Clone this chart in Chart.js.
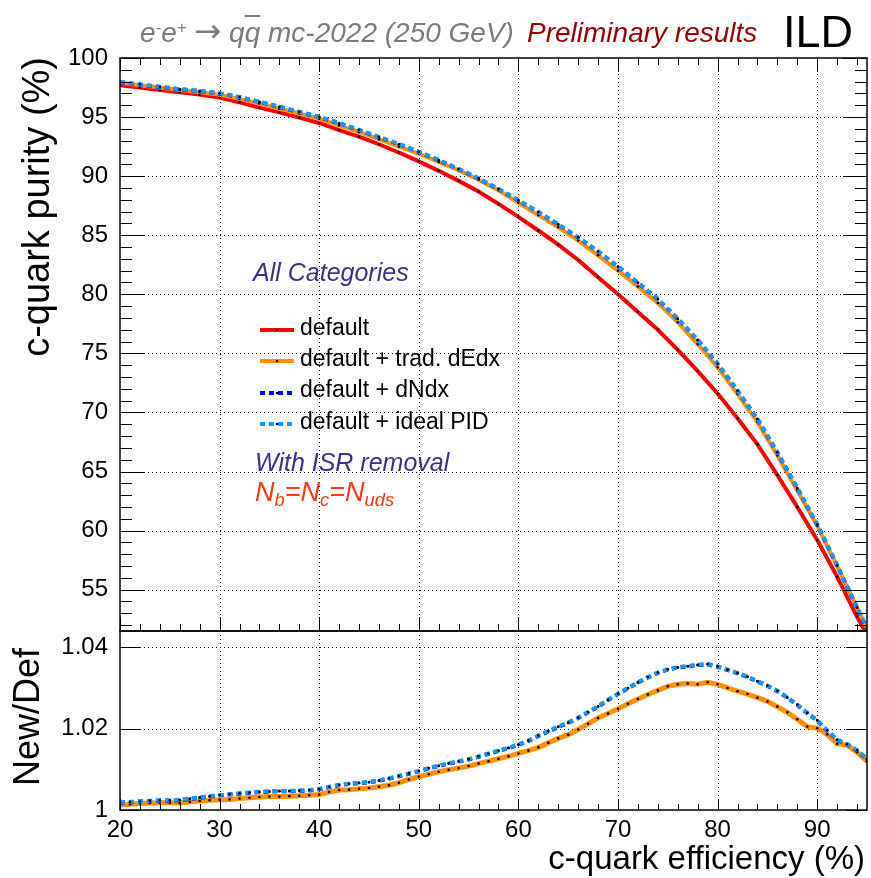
<!DOCTYPE html>
<html>
<head>
<meta charset="utf-8">
<script src="https://cdn.jsdelivr.net/npm/chart.js@4/dist/chart.umd.min.js"></script>
<style>
  body { margin: 0; background: #fff; }
  #wrap { position: relative; width: 871px; height: 878px; overflow: hidden; font-family: "Liberation Sans", Arial, sans-serif; }
  canvas { position: absolute; left: 0; }
  .txt { position: absolute; white-space: nowrap; line-height: 1; }
  .it { font-style: italic; }
  .rot { transform-origin: 0 0; transform: rotate(-90deg); }
  .arrow { font-family: "DejaVu Sans", sans-serif; font-style: normal; font-size: 1.15em; line-height: 0; }
  sub { font-size: 0.68em; vertical-align: -0.25em; line-height: 0; }
  sup { font-size: 0.6em; vertical-align: 0.55em; line-height: 0; }
</style>
</head>
<body>
<div id="wrap">
  <canvas id="purityChart" width="871" height="640" style="top:0"></canvas>
  <canvas id="ratioChart" width="871" height="278" style="top:600px"></canvas>

  <div class="txt it" style="left:140px; top:19px; font-size:28px; color:#7a7a7a">e<sup>-</sup>e<sup>+</sup> <span class="arrow">&rarr;</span> q<span style="text-decoration:overline">q</span> mc-2022 (250 GeV)</div>
  <div class="txt it" style="left:527px; top:19px; font-size:28px; color:#990000">Preliminary results</div>
  <div class="txt" style="left:783px; top:9px; font-size:45px; color:#000">ILD</div>

  <div class="txt rot" style="left:17px; top:377px; width:320px; text-align:right; font-size:38px">c-quark purity (%)</div>
  <div class="txt rot" style="left:9px; top:817px; width:200px; text-align:center; font-size:36px">New/Def</div>
  <div class="txt" style="right:6px; top:841px; font-size:33px">c-quark efficiency (%)</div>

  <div class="txt it" style="left:253px; top:260px; font-size:25px; color:#3a2f8f">All Categories</div>

  <svg style="position:absolute; left:258px; top:320px" width="38" height="112">
    <line x1="2" y1="10" x2="36" y2="10" stroke="#ff0000" stroke-width="4"/>
    <circle cx="19" cy="10" r="1.3" fill="#000"/>
    <line x1="2" y1="41" x2="36" y2="41" stroke="#ff9000" stroke-width="4"/>
    <circle cx="19" cy="41" r="1.3" fill="#000"/>
    <line x1="2" y1="73" x2="36" y2="73" stroke="#0000ff" stroke-width="4" stroke-dasharray="5 4"/>
    <circle cx="19" cy="73" r="1.3" fill="#000"/>
    <line x1="2" y1="104" x2="36" y2="104" stroke="#109cff" stroke-width="4" stroke-dasharray="5 4"/>
    <circle cx="19" cy="104" r="1.3" fill="#000"/>
  </svg>
  <div class="txt" style="left:300px; top:316px; font-size:23px">default</div>
  <div class="txt" style="left:300px; top:347px; font-size:23px">default + trad. dEdx</div>
  <div class="txt" style="left:300px; top:378px; font-size:23px">default + dNdx</div>
  <div class="txt" style="left:300px; top:410px; font-size:23px">default + ideal PID</div>

  <div class="txt it" style="left:255px; top:450px; font-size:25px; color:#3a2f8f">With ISR removal</div>
  <div class="txt it" style="left:255px; top:479px; font-size:27px; color:#ff3a10">N<sub>b</sub>=N<sub>c</sub>=N<sub>uds</sub></div>
</div>

<script>
// c-quark efficiency (%) for the purity curves
const effTop = [20, 22, 24, 26, 28, 30, 32, 34, 36, 38, 40, 42, 44, 46, 48, 50, 52, 54, 56, 58,
                60, 62, 64, 66, 68, 70, 72, 74, 76, 78, 80, 82, 84, 86, 88, 90, 92, 94, 95];

// c-quark purity (%)
const purityDefault = [97.7, 97.5, 97.3, 97.1, 96.9, 96.65, 96.25, 95.8, 95.4, 94.95, 94.5, 93.9, 93.35, 92.7, 92.0, 91.25, 90.45, 89.6, 88.7, 87.65,
                       86.55, 85.4, 84.2, 82.9, 81.45, 80.0, 78.5, 77.0, 75.3, 73.5, 71.6, 69.5, 67.3, 64.7, 62.0, 59.2, 56.1, 52.7, 51.2];
const purityDEdx = [97.9, 97.7, 97.5, 97.3, 97.1, 96.88, 96.54, 96.15, 95.72, 95.3, 94.86, 94.3, 93.75, 93.13, 92.5, 91.9, 91.2, 90.5, 89.7, 88.8,
                    87.75, 86.7, 85.67, 84.55, 83.3, 82.0, 80.65, 79.26, 77.63, 75.78, 73.82, 71.55, 69.18, 66.36, 63.4, 60.4, 57.0, 53.45, 51.75];
const purityDNdx = [97.95, 97.75, 97.55, 97.35, 97.2, 97.0, 96.68, 96.28, 95.86, 95.43, 95.0, 94.48, 93.9, 93.3, 92.7, 92.05, 91.35, 90.6, 89.8, 88.9,
                    87.95, 86.95, 85.9, 84.8, 83.62, 82.33, 80.97, 79.58, 77.92, 76.12, 74.12, 71.83, 69.43, 66.6, 63.6, 60.5, 57.06, 53.47, 51.7];
const purityIdeal = [97.97, 97.77, 97.56, 97.37, 97.21, 97.02, 96.69, 96.3, 95.88, 95.44, 95.02, 94.49, 93.92, 93.31, 92.72, 92.06, 91.37, 90.61, 89.82, 88.92,
                     87.97, 86.96, 85.92, 84.82, 83.63, 82.35, 80.98, 79.6, 77.93, 76.14, 74.13, 71.85, 69.44, 66.62, 63.61, 60.52, 57.07, 53.49, 51.72];

// c-quark efficiency (%) for the ratio panel
const effRatio = [20, 21, 22, 23, 24, 25, 26, 27, 28, 29, 30, 31, 32, 33, 34, 35, 36, 37, 38, 39,
                  40, 41, 42, 43, 44, 45, 46, 47, 48, 49, 50, 51, 52, 53, 54, 55, 56, 57, 58, 59,
                  60, 61, 62, 63, 64, 65, 66, 67, 68, 69, 70, 71, 72, 73, 74, 75, 76, 77, 78, 79,
                  80, 81, 82, 83, 84, 85, 86, 87, 88, 89, 90, 91, 92, 93, 94, 95];

// purity ratio new / default
const ratioDEdx = [1.0012, 1.0014, 1.0016, 1.0017, 1.0018, 1.0018, 1.0017, 1.0020, 1.0022, 1.0024,
                   1.0025, 1.0026, 1.0028, 1.0030, 1.0032, 1.0033, 1.0033, 1.0034, 1.0035, 1.0036,
                   1.0038, 1.0044, 1.0049, 1.0050, 1.0052, 1.0054, 1.0057, 1.0061, 1.0067, 1.0075,
                   1.0082, 1.0088, 1.0094, 1.0099, 1.0103, 1.0108, 1.0114, 1.0120, 1.0126, 1.0132,
                   1.0139, 1.0146, 1.0154, 1.0165, 1.0176, 1.0185, 1.0198, 1.0212, 1.0226, 1.0237,
                   1.0249, 1.0261, 1.0273, 1.0284, 1.0294, 1.0304, 1.0309, 1.0311, 1.0309, 1.0314,
                   1.0309, 1.0300, 1.0292, 1.0285, 1.0276, 1.0267, 1.0254, 1.0240, 1.0223, 1.0205,
                   1.0201, 1.0186, 1.0163, 1.0160, 1.0142, 1.0120];
const ratioDNdx = [1.0018, 1.0019, 1.0021, 1.0022, 1.0023, 1.0023, 1.0024, 1.0027, 1.0030, 1.0033,
                   1.0036, 1.0038, 1.0040, 1.0042, 1.0044, 1.0045, 1.0046, 1.0046, 1.0047, 1.0048,
                   1.0051, 1.0056, 1.0061, 1.0064, 1.0066, 1.0068, 1.0072, 1.0077, 1.0083, 1.0089,
                   1.0095, 1.0102, 1.0108, 1.0114, 1.0119, 1.0124, 1.0131, 1.0138, 1.0145, 1.0152,
                   1.0160, 1.0170, 1.0182, 1.0193, 1.0204, 1.0214, 1.0226, 1.0240, 1.0254, 1.0270,
                   1.0285, 1.0299, 1.0313, 1.0326, 1.0337, 1.0345, 1.0350, 1.0353, 1.0356, 1.0358,
                   1.0352, 1.0344, 1.0336, 1.0327, 1.0316, 1.0305, 1.0292, 1.0276, 1.0258, 1.0238,
                   1.0220, 1.0195, 1.0172, 1.0161, 1.0146, 1.0125];
const ratioIdeal = [1.0019, 1.0020, 1.0021, 1.0023, 1.0024, 1.0024, 1.0025, 1.0028, 1.0031, 1.0034,
                    1.0037, 1.0039, 1.0041, 1.0043, 1.0045, 1.0046, 1.0047, 1.0047, 1.0048, 1.0049,
                    1.0052, 1.0057, 1.0062, 1.0065, 1.0067, 1.0069, 1.0073, 1.0078, 1.0084, 1.0090,
                    1.0096, 1.0103, 1.0109, 1.0115, 1.0120, 1.0125, 1.0132, 1.0139, 1.0146, 1.0153,
                    1.0161, 1.0171, 1.0183, 1.0194, 1.0205, 1.0215, 1.0227, 1.0241, 1.0255, 1.0271,
                    1.0286, 1.0300, 1.0314, 1.0327, 1.0338, 1.0346, 1.0351, 1.0354, 1.0357, 1.0359,
                    1.0353, 1.0345, 1.0337, 1.0328, 1.0317, 1.0306, 1.0293, 1.0277, 1.0259, 1.0239,
                    1.0221, 1.0196, 1.0173, 1.0162, 1.0147, 1.0126];

// axis tick values
const effMajor = [20, 30, 40, 50, 60, 70, 80, 90];
const purityMajor = [55, 60, 65, 70, 75, 80, 85, 90, 95, 100];
const ratioMajor = [1, 1.02, 1.04];

const colors = { def: '#ff0000', dedx: '#ff9000', dndx: '#0000ff', ideal: '#109cff' };
const labelFont = { family: '"Liberation Sans", Arial, sans-serif', size: 24 };

function minorTicks(from, to, step, majors) {
    const out = [];
    for (let v = from; v <= to + 1e-9; v += step) {
        if (!majors.some(m => Math.abs(m - v) < 1e-6)) out.push(v);
    }
    return out;
}

function series(label, xs, ys, color, width, dash, order) {
    return {
        label,
        data: xs.map((x, i) => ({ x, y: ys[i] })),
        borderColor: color,
        borderWidth: width,
        borderDash: dash,
        pointRadius: 1.3,
        pointBackgroundColor: '#000',
        pointBorderWidth: 0,
        pointHoverRadius: 0,
        tension: 0,
        order
    };
}

// fixed axis width, no extra room for half labels
function fixAxis(s) {
    s.width = 120;
    s.paddingTop = 0;
    s.paddingBottom = 0;
}

// ROOT-like frame: dotted grid under the data, inward ticks and box on top
const rootFrame = {
    id: 'rootFrame',
    beforeDatasetsDraw(chart, args, o) {
        const { ctx, chartArea: a, scales: { x, y } } = chart;
        ctx.save();
        ctx.strokeStyle = '#000';
        ctx.lineWidth = 1;
        ctx.setLineDash([1, 3]);
        ctx.beginPath();
        o.gridX.forEach(v => {
            const px = Math.round(x.getPixelForValue(v)) + 0.5;
            ctx.moveTo(px, a.top); ctx.lineTo(px, a.bottom);
        });
        o.gridY.forEach(v => {
            const py = Math.round(y.getPixelForValue(v)) + 0.5;
            ctx.moveTo(a.left, py); ctx.lineTo(a.right, py);
        });
        ctx.stroke();
        ctx.restore();
    },
    afterDatasetsDraw(chart, args, o) {
        const { ctx, chartArea: a, scales: { x, y } } = chart;
        ctx.save();
        ctx.strokeStyle = '#000';
        ctx.lineWidth = 1;
        ctx.beginPath();
        const xt = (vals, len, top, bottom) => vals.forEach(v => {
            const px = Math.round(x.getPixelForValue(v)) + 0.5;
            if (bottom) { ctx.moveTo(px, a.bottom); ctx.lineTo(px, a.bottom - len); }
            if (top) { ctx.moveTo(px, a.top); ctx.lineTo(px, a.top + len); }
        });
        const yt = (vals, len) => vals.forEach(v => {
            const py = Math.round(y.getPixelForValue(v)) + 0.5;
            ctx.moveTo(a.left, py); ctx.lineTo(a.left + len, py);
            ctx.moveTo(a.right, py); ctx.lineTo(a.right - len, py);
        });
        xt(o.xMajor, o.xMajorLen, o.xTop, true);
        xt(o.xMinor, o.xMinorLen, o.xTop, true);
        yt(o.yMajor, o.yMajorLen);
        yt(o.yMinor, o.yMinorLen);
        ctx.stroke();
        ctx.lineWidth = 1.5;
        ctx.strokeRect(a.left, a.top, a.right - a.left, a.bottom - a.top);
        ctx.restore();
    }
};

new Chart(document.getElementById('purityChart'), {
    type: 'line',
    data: {
        datasets: [
            series('default', effTop, purityDefault, colors.def, 4, [], 3),
            series('default + trad. dEdx', effTop, purityDEdx, colors.dedx, 4, [], 2),
            series('default + dNdx', effTop, purityDNdx, colors.dndx, 4, [5, 4], 1),
            series('default + ideal PID', effTop, purityIdeal, colors.ideal, 4, [5, 4], 0)
        ]
    },
    options: {
        responsive: false,
        animation: false,
        devicePixelRatio: 1,
        layout: { padding: { left: 0, top: 58, right: 4, bottom: 9 } },
        plugins: {
            legend: { display: false },
            tooltip: { enabled: false },
            rootFrame: {
                gridX: effMajor.slice(1),
                gridY: purityMajor.slice(0, -1),
                xMajor: effMajor, xMinor: minorTicks(20, 95, 2, effMajor), xMajorLen: 14, xMinorLen: 7, xTop: true,
                yMajor: purityMajor, yMinor: minorTicks(52, 100, 1, purityMajor), yMajorLen: 24, yMinorLen: 12
            }
        },
        scales: {
            x: { type: 'linear', min: 20, max: 95, display: false },
            y: {
                type: 'linear', min: 51.5, max: 100,
                afterFit: fixAxis,
                grid: { display: false, drawTicks: false },
                border: { display: false },
                ticks: { stepSize: 5, includeBounds: false, padding: 12, color: '#000', font: labelFont }
            }
        }
    },
    plugins: [rootFrame]
});

new Chart(document.getElementById('ratioChart'), {
    type: 'line',
    data: {
        datasets: [
            series('default + trad. dEdx', effRatio, ratioDEdx, colors.dedx, 5, [], 2),
            series('default + dNdx', effRatio, ratioDNdx, colors.dndx, 4, [5, 4], 1),
            series('default + ideal PID', effRatio, ratioIdeal, colors.ideal, 4, [5, 4], 0)
        ]
    },
    options: {
        responsive: false,
        animation: false,
        devicePixelRatio: 1,
        layout: { padding: { left: 0, top: 31, right: 4, bottom: 0 } },
        plugins: {
            legend: { display: false },
            tooltip: { enabled: false },
            rootFrame: {
                gridX: effMajor.slice(1),
                gridY: ratioMajor.slice(1),
                xMajor: effMajor, xMinor: minorTicks(20, 95, 2, effMajor), xMajorLen: 11, xMinorLen: 6, xTop: false,
                yMajor: ratioMajor, yMinor: [], yMajorLen: 21, yMinorLen: 0
            }
        },
        scales: {
            x: {
                type: 'linear', min: 20, max: 95,
                afterFit: s => { s.height = 68; s.paddingLeft = 0; s.paddingRight = 0; },
                grid: { display: false, drawTicks: false },
                border: { display: false },
                ticks: { stepSize: 10, includeBounds: false, padding: 6, maxRotation: 0, autoSkip: false, color: '#000', font: labelFont }
            },
            y: {
                type: 'linear', min: 1.0, max: 1.044,
                afterFit: fixAxis,
                grid: { display: false, drawTicks: false },
                border: { display: false },
                ticks: {
                    stepSize: 0.02, includeBounds: false, padding: 12, color: '#000', font: labelFont,
                    callback: v => String(Number(v.toFixed(2)))
                }
            }
        }
    },
    plugins: [rootFrame]
});
</script>
</body>
</html>
